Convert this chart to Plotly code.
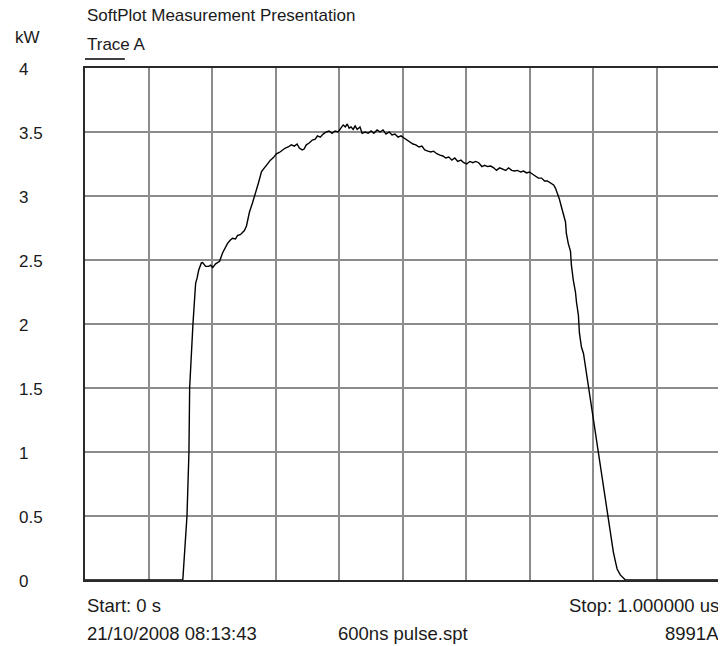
import plotly.graph_objects as go

time_us = [0.000, 0.154, 0.1606, 0.1637, 0.1648, 0.1672, 0.170, 0.1735, 0.1743, 0.1766, 0.179, 0.1832, 0.1852,
           0.190, 0.1947, 0.198, 0.201, 0.2057, 0.212, 0.2166, 0.2214, 0.2245, 0.229, 0.2323, 0.237, 0.240,
           0.245, 0.251, 0.2543, 0.256, 0.259, 0.2637, 0.2685, 0.273, 0.278, 0.2826, 0.287, 0.292, 0.2967,
           0.3014, 0.306, 0.311, 0.3155, 0.320, 0.325, 0.3297, 0.334, 0.3375, 0.342, 0.345, 0.3485, 0.353,
           0.358, 0.3626, 0.366, 0.3705, 0.375, 0.380, 0.3846, 0.389, 0.394, 0.3987, 0.403, 0.4066, 0.410,
           0.413, 0.416, 0.419, 0.4223, 0.4254, 0.4286, 0.433, 0.4364, 0.441, 0.446, 0.4505, 0.455, 0.460,
           0.4647, 0.4694, 0.474, 0.479, 0.4835, 0.488, 0.493, 0.4976, 0.5024, 0.507, 0.512, 0.5165, 0.521,
           0.526, 0.5306, 0.535, 0.540, 0.5447, 0.549, 0.554, 0.559, 0.5636, 0.568, 0.573, 0.5777, 0.5824,
           0.587, 0.592, 0.5965, 0.601, 0.606, 0.6107, 0.6154, 0.620, 0.625, 0.6295, 0.634, 0.639, 0.6436,
           0.648, 0.653, 0.658, 0.6625, 0.667, 0.672, 0.6766, 0.681, 0.686, 0.6907, 0.6954, 0.700, 0.705,
           0.7096, 0.714, 0.719, 0.7237, 0.728, 0.733, 0.738, 0.741, 0.744, 0.747, 0.750, 0.7535, 0.7567,
           0.758, 0.761, 0.7645, 0.766, 0.769, 0.7724, 0.774, 0.777, 0.7786, 0.7818, 0.785, 0.7865, 0.790,
           0.7928, 0.796, 0.799, 0.8038, 0.807, 0.810, 0.813, 0.8163, 0.8195, 0.8226, 0.826, 0.829, 0.832,
           0.8355, 0.838, 0.843, 0.8477, 0.851, 1.000]

power_kw = [0.0, 0.0, 0.5, 1.0, 1.5, 1.797, 2.0, 2.266, 2.32, 2.36, 2.42, 2.477, 2.48,
            2.45, 2.45, 2.46, 2.44, 2.47, 2.49, 2.555, 2.60, 2.63, 2.656, 2.67, 2.664, 2.69,
            2.70, 2.73, 2.766, 2.81, 2.875, 2.945, 3.016, 3.10, 3.19, 3.22, 3.24, 3.28, 3.30,
            3.33, 3.34, 3.36, 3.375, 3.383, 3.40, 3.39, 3.406, 3.375, 3.36, 3.367, 3.40, 3.414,
            3.4375, 3.445, 3.47, 3.46, 3.484, 3.50, 3.508, 3.49, 3.508, 3.50, 3.53, 3.555, 3.54,
            3.5625, 3.53, 3.54, 3.52, 3.547, 3.52, 3.54, 3.49, 3.50, 3.49, 3.508, 3.49, 3.516,
            3.50, 3.516, 3.484, 3.50, 3.477, 3.484, 3.46, 3.47, 3.453, 3.4375, 3.42, 3.406, 3.40,
            3.383, 3.39, 3.36, 3.35, 3.344, 3.35, 3.33, 3.32, 3.3125, 3.297, 3.305, 3.28, 3.297,
            3.27, 3.28, 3.26, 3.25, 3.27, 3.26, 3.27, 3.26, 3.23, 3.24, 3.23, 3.234, 3.22,
            3.20, 3.22, 3.21, 3.20, 3.22, 3.20, 3.195, 3.20, 3.1875, 3.195, 3.18, 3.1875, 3.17,
            3.156, 3.14, 3.14, 3.117, 3.117, 3.10, 3.086, 3.06, 3.02, 2.977, 2.92, 2.86, 2.797,
            2.71, 2.63, 2.57, 2.46, 2.34, 2.25, 2.17, 2.07, 1.93, 1.82, 1.77, 1.72, 1.617,
            1.50, 1.406, 1.30, 1.17, 1.055, 0.953, 0.836, 0.727, 0.625, 0.523, 0.414, 0.3125, 0.22,
            0.14, 0.086, 0.04, 0.016, 0.0, 0.0]

y_ticks = [0, 0.5, 1, 1.5, 2, 2.5, 3, 3.5, 4]
y_tick_labels = ["0", "0.5", "1", "1.5", "2", "2.5", "3", "3.5", "4"]

FONT = "Liberation Sans, Arial, sans-serif"
TXT = "#1a1a1a"

fig = go.Figure()
fig.add_trace(go.Scatter(x=time_us, y=power_kw, mode="lines",
                         line=dict(color="black", width=1.4), hoverinfo="skip"))

# page body has an 8px default margin: figure is offset by 8px
fig.update_layout(
    width=718, height=638,
    margin=dict(l=77, r=4, t=60, b=66),
    paper_bgcolor="white", plot_bgcolor="white",
    showlegend=False,
    font=dict(family=FONT, size=17, color=TXT),
    xaxis=dict(range=[0, 1], dtick=0.1, showticklabels=False, ticks="",
               showgrid=True, gridcolor="#8c8c8c", gridwidth=1.5, zeroline=False,
               showline=True, mirror=True, linecolor="#2a2a2a", linewidth=2),
    yaxis=dict(range=[0, 4], dtick=0.5, showticklabels=False, ticks="",
               showgrid=True, gridcolor="#8c8c8c", gridwidth=1.5, zeroline=False,
               showline=True, mirror=True, linecolor="#2a2a2a", linewidth=2),
)

ann = []
for v, lab in zip(y_ticks, y_tick_labels):
    ann.append(dict(x=(17 - 85) / 637, y=v, xref="paper", yref="y", text=lab,
                    xanchor="left", yanchor="middle", showarrow=False, yshift=-1))

def P(px, py):
    return (px - 85) / 637, (580 - py) / 512

texts = [
    ("SoftPlot Measurement Presentation", 85, 15, "left", 17),
    ("Trace A", 85, 44, "left", 17),
    ("kW", 13, 37, "left", 17),
    ("Start: 0 s", 85, 605, "left", 18.5),
    ("Stop: 1.000000 us", 723, 605, "right", 18.5),
    ("21/10/2008 08:13:43", 85, 633, "left", 18.5),
    ("600ns pulse.spt", 404, 633, "center", 18.5),
    ("8991A", 723, 633, "right", 18.5),
]
for t, px, py, xa, fs in texts:
    x, y = P(px, py)
    ann.append(dict(x=x, y=y, xref="paper", yref="paper", text=t, xanchor=xa,
                    yanchor="middle", showarrow=False, font=dict(size=fs)))

fig.update_layout(annotations=ann)

x0, y0 = P(85, 59)
x1, _ = P(125, 59)
fig.add_shape(type="line", xref="paper", yref="paper", x0=x0, x1=x1, y0=y0, y1=y0,
              line=dict(color="black", width=1.5))

fig.write_html("out.html")
